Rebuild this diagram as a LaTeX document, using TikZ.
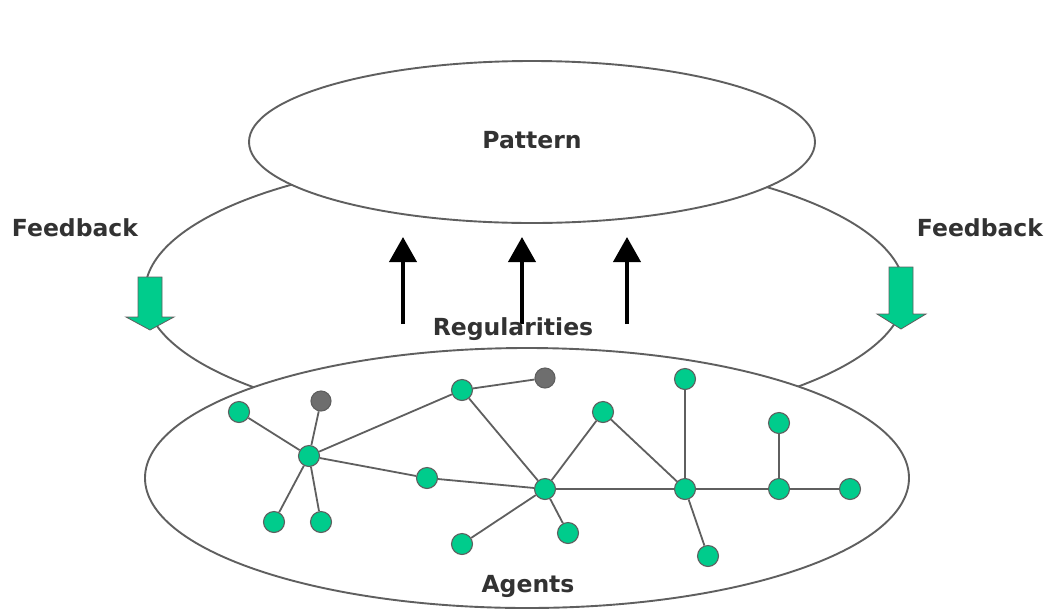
\documentclass[tikz,border=0pt]{standalone}
\usepackage{fontspec}
\setmainfont{DejaVu Sans}
\usetikzlibrary{shapes.geometric,arrows.meta}
\definecolor{agentgreen}{RGB}{0,204,140}
\definecolor{agentgray}{RGB}{110,110,110}
\definecolor{linegray}{RGB}{95,95,95}
\definecolor{textdark}{RGB}{50,50,50}
\begin{document}
\begin{tikzpicture}[x=1pt,y=-1pt,
  lbl/.style={font=\fontsize{23.5}{28}\selectfont\bfseries, text=textdark, inner sep=0pt},
  level/.style={ellipse, draw=linegray, line width=1.9pt, fill=white, inner sep=0pt},
  agent/.style={circle, draw=linegray, line width=1.1pt, fill=agentgreen, minimum size=21pt, inner sep=0pt},
  idle/.style={agent, fill=agentgray, minimum size=20pt},
  link/.style={draw=linegray, line width=1.8pt},
  feedback/.style={draw=linegray, line width=0.8pt, fill=agentgreen},
  rise/.style={line width=4pt, -{Triangle[width=27pt,length=25pt]}}
]
\useasboundingbox (0,0) rectangle (1049,611);

% outer loop joining the two levels
\draw[linegray, line width=1.9pt] (525,292) ellipse [x radius=380pt, y radius=136pt];

% the two levels
\node[level, minimum width=566pt, minimum height=162pt] (pattern) at (532,142) {};
\node[level, minimum width=764pt, minimum height=260pt] (agents) at (527,478) {};

% feedback arrows on the loop
\draw[feedback] (138,277) -- (162,277) -- (162,317) -- (174,317) -- (150,330)
  -- (126,317) -- (138,317) -- cycle;
\draw[feedback] (889,267) -- (913,267) -- (913,314) -- (926,314) -- (901,329)
  -- (877,314) -- (889,314) -- cycle;

% emergence arrows
\coordinate (r1s) at (403,324); \coordinate (r1e) at (403,237);
\coordinate (r2s) at (522,324); \coordinate (r2e) at (522,237);
\coordinate (r3s) at (627,324); \coordinate (r3e) at (627,237);
\draw[rise] (r1s) -- (r1e);
\draw[rise] (r2s) -- (r2e);
\draw[rise] (r3s) -- (r3e);

% labels
\node[lbl] (tPattern) at (532,140) {Pattern};
\node[lbl] (tReg) at (513,329) {Regularities};
\node[lbl] (tAgents) at (528,586) {Agents};
\node[lbl] (tFbL) at (75,228) {Feedback};
\node[lbl] (tFbR) at (980,228) {Feedback};

% agent network
\node[agent] (n1) at (239,412) {};
\node[idle]  (g1) at (321,401) {};
\node[agent] (A)  at (309,456) {};
\node[agent] (n2) at (274,522) {};
\node[agent] (n3) at (321,522) {};
\node[agent] (n4) at (462,390) {};
\node[idle]  (g2) at (545,378) {};
\node[agent] (n5) at (427,478) {};
\node[agent] (B)  at (545,489) {};
\node[agent] (n6) at (462,544) {};
\node[agent] (n7) at (568,533) {};
\node[agent] (n8) at (603,412) {};
\node[agent] (C)  at (685,489) {};
\node[agent] (n9) at (685,379) {};
\node[agent] (n10) at (708,556) {};
\node[agent] (D)  at (779,489) {};
\node[agent] (n11) at (779,423) {};
\node[agent] (n12) at (850,489) {};

\foreach \a/\b in {n1/A, g1/A, A/n2, A/n3, A/n4, n4/g2, A/n5, n5/B, n4/B, B/n7,
                   B/n6, B/n8, n8/C, B/C, C/n9, C/n10, C/D, D/n11, D/n12}
  \draw[link] (\a) -- (\b);
\end{tikzpicture}
\end{document}
